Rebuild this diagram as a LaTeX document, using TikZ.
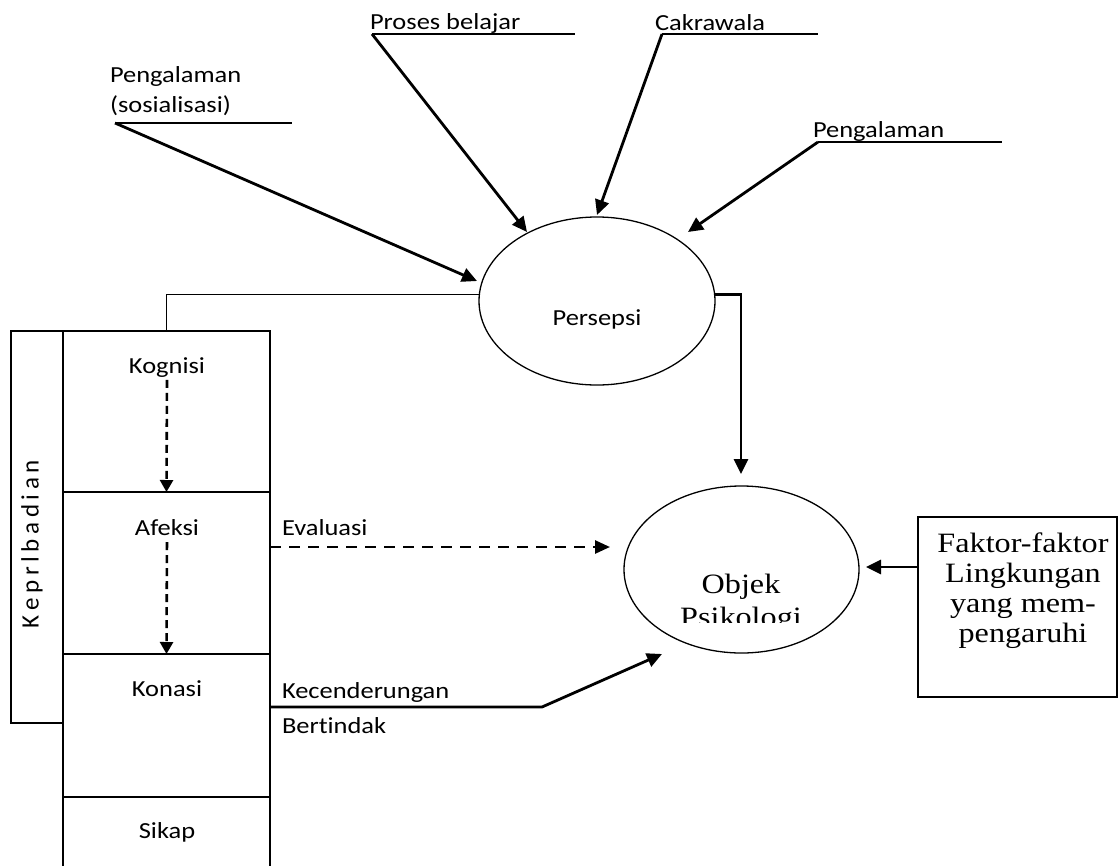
\documentclass[tikz,border=0pt]{standalone}
\usepackage{fontspec}
\usetikzlibrary{arrows.meta,shapes.geometric}
\newfontfamily\calw[FakeStretch=1.15,Ligatures=NoCommon]{Carlito}
\newfontfamily\calp[Ligatures=NoCommon]{Carlito}
\newfontfamily\tmsw[FakeStretch=1.15]{Liberation Serif}
\newcommand{\lsp}{\kern4.6pt}
\newcommand{\ctrline}[1]{\hbox to 200pt{\hfil#1\hfil}}
\begin{document}
\begin{tikzpicture}[x=1pt,y=-1pt,
  lbl/.style={font=\calw\fontsize{23}{30}\selectfont, inner sep=0pt, outer sep=0pt},
  serif/.style={font=\tmsw\fontsize{28}{30}\selectfont, inner sep=0pt, outer sep=0pt},
  heavy/.style={line width=2.8pt},
  arr/.style={heavy,-{Triangle[length=15pt,width=14pt]}},
  darr/.style={line width=2.6pt,dash pattern=on 8pt off 5pt,-{Triangle[length=12pt,width=13pt]}},
  earr/.style={line width=2.6pt,dash pattern=on 11pt off 8pt,-{Triangle[length=15pt,width=13pt]}},
  boxl/.style={draw,line width=1.3pt,rectangle,inner sep=0pt,outer sep=0pt},
  ell/.style={draw,ellipse,line width=1.3pt,inner sep=0pt,outer sep=0pt},
]
\useasboundingbox (0,0) rectangle (1119,865);

% ---- top input labels
\node[lbl,anchor=base west] (tPS) at (110,82) {\vtop{\hbox{Pengalaman}\hbox{(sosialisasi)}}};
\node[lbl,anchor=base west] (tPB) at (370,29) {Proses belajar};
\node[lbl,anchor=base west] (tCK) at (655,30) {Cakrawala};
\node[lbl,anchor=base west] (tPG) at (813,137) {Pengalaman};

\coordinate (ps1) at (115,123); \coordinate (ps2) at (292,123); \coordinate (pst) at (477,281);
\coordinate (pb1) at (372,34);  \coordinate (pb2) at (575,34);  \coordinate (pbt) at (527,232);
\coordinate (ck1) at (662,34);  \coordinate (ck2) at (818,34);  \coordinate (ckt) at (597,215);
\coordinate (pg1) at (818,142); \coordinate (pg2) at (1002,142); \coordinate (pgt) at (688,232);

\draw[heavy] (ps1) -- (ps2);
\draw[heavy] (pb1) -- (pb2);
\draw[heavy] (ck1) -- (ck2);
\draw[heavy] (pg1) -- (pg2);
\draw[arr] (ps1) -- (pst);
\draw[arr] (pb1) -- (pbt);
\draw[arr] (ck1) -- (ckt);
\draw[arr] (pg1) -- (pgt);

% ---- Persepsi
\node[ell,minimum width=236pt,minimum height=168pt] (persepsi) at (597,301) {};
\node[lbl,anchor=base] (tPer) at (597,325) {Persepsi};

% ---- Objek Psikologi
\node[ell,minimum width=235pt,minimum height=167pt] (objek) at (741.5,569.5) {};
\begin{scope}
  \clip (620,480) rectangle (870,622);
  \node[serif,anchor=base] (tObj) at (741,593) {\vtop{\baselineskip=33pt\ctrline{Objek}\ctrline{Psikologi}}};
\end{scope}

% ---- Faktor box
\node[boxl,minimum width=199pt,minimum height=180pt] (faktor) at (1017.5,607) {};
\node[serif,anchor=base] (tFak) at (1023,552) {\vtop{\baselineskip=30pt\ctrline{Faktor-faktor}\ctrline{Lingkungan}\ctrline{yang mem-}\ctrline{pengaruhi}}};

% ---- left column
\node[boxl,minimum width=52pt,minimum height=392pt] (kep) at (37,527) {};
\node[font=\calp\fontsize{25}{28}\selectfont,rotate=90,inner sep=0pt] (tKep) at (32,544)
  {K\lsp e\lsp p\lsp r\lsp l\lsp b\lsp a\lsp d\lsp i\lsp a\lsp n};

\node[boxl,minimum width=207pt,minimum height=161pt] (kog) at (166.5,411.5) {};
\node[boxl,minimum width=207pt,minimum height=162pt] (afe) at (166.5,573) {};
\node[boxl,minimum width=207pt,minimum height=143pt] (kon) at (166.5,725.5) {};
\node[boxl,minimum width=207pt,minimum height=100pt] (sik) at (166.5,847) {};

\node[lbl,anchor=base] (tKog) at (167,373) {Kognisi};
\node[lbl,anchor=base] (tAfe) at (167,535) {Afeksi};
\node[lbl,anchor=base] (tKon) at (167,696) {Konasi};
\node[lbl,anchor=base] (tSik) at (167,838) {Sikap};

\draw[darr,shorten <=3pt] (tKog.south) -- (afe.north);
\draw[darr,shorten <=7pt] (tAfe.south) -- (kon.north);

% ---- connectors
\draw[line width=1.3pt] (persepsi.177) -| (kog.north);
\coordinate (ptip) at (741,474);
\draw[arr] (persepsi.3) -| (ptip);

\node[lbl,anchor=base west] (tEva) at (282,535) {Evaluasi};
\coordinate (evt) at (610,547);
\draw[earr] (afe.east |- evt) -- (evt);

\node[lbl,anchor=base west] (tKec) at (282,698) {Kecenderungan};
\node[lbl,anchor=base west] (tBer) at (282,733) {Bertindak};
\coordinate (kb) at (542,707);
\coordinate (kt) at (662,654);
\draw[arr] (kon.east |- kb) -- (kb) -- (kt);

\coordinate (ft) at (866,567);
\draw[arr] (faktor.west |- ft) -- (ft);
\end{tikzpicture}
\end{document}
